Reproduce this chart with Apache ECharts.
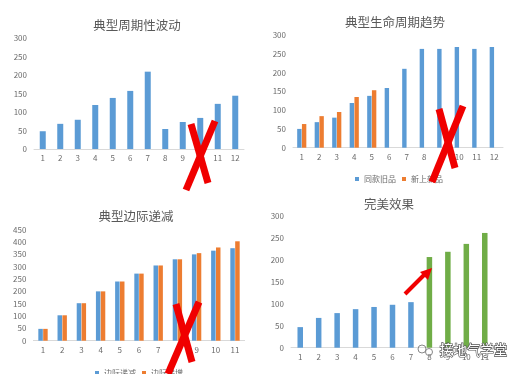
<!DOCTYPE html>
<html><head><meta charset="utf-8">
<script src="https://cdn.jsdelivr.net/npm/echarts@6/dist/echarts.min.js"></script>
<style>html,body{margin:0;padding:0;background:#fff}#c{width:515px;height:374px}</style>
</head><body><div id="c"></div>
<script>
// Chart 1: 典型周期性波动
const cats12 = ['1','2','3','4','5','6','7','8','9','10','11','12'];
const cats11 = ['1','2','3','4','5','6','7','8','9','10','11'];
const cycleValues = [48, 68, 79, 119, 138, 157, 209, 54, 73, 84, 122, 144];
// Chart 2: 典型生命周期趋势
const oldProduct = [50, 68, 80, 119, 138, 159, 210, 263, 263, 268, 263, 268];
const newProduct = [63, 84, 95, 135, 153, '-', '-', '-', '-', '-', '-', '-'];
// Chart 3: 典型边际递减
const marginalDec = [48, 103, 152, 200, 240, 272, 305, 330, 350, 365, 375];
const marginalInc = [48, 103, 152, 200, 240, 272, 305, 330, 355, 378, 403];
// Chart 4: 完美效果
const perfectBlue = [47, 68, 79, 88, 93, 98, 104, '-', '-', '-', '-'];
const perfectGreen = ['-', '-', '-', '-', '-', '-', '-', 207, 219, 237, 262];

const titles = ['典型周期性波动', '典型生命周期趋势', '典型边际递减', '完美效果'];
const legend2 = ['同款旧品', '新上新品'];
const legend3 = ['边际递减', '边际递增'];

const BLUE = '#5B9BD5', ORANGE = '#ED7D31', GREEN = '#70AD47';
const FONT = '"Noto Sans CJK SC", "Noto Sans", sans-serif';
const lblColor = '#6b6b6b';

const grids = [
  {left: 34, top: 38, width: 210, height: 111},
  {left: 293, top: 35, width: 210, height: 112.7},
  {left: 33.4, top: 229.7, width: 211.2, height: 111},
  {left: 291, top: 216.3, width: 203, height: 131.4}
];
function xAx(i, data){
  return {type:'category', gridIndex:i, data:data,
    axisLine:{lineStyle:{color:'#d9d9d9'}}, axisTick:{show:false},
    axisLabel:{color:lblColor, fontSize:8, margin:5, fontFamily:FONT, interval:0}};
}
function yAx(i, max){
  return {type:'value', gridIndex:i, min:0, max:max, interval:50,
    splitLine:{show:false}, axisLine:{show:false}, axisTick:{show:false},
    axisLabel:{color:lblColor, fontSize:8, margin:7, fontFamily:FONT}};
}
function titleAt(text, x, y){
  return {text:text, left:x, top:y, textAlign:'center',
    textStyle:{fontSize:12.5, fontWeight:'normal', color:'#595959', fontFamily:FONT}};
}
const X = (x1,y1,x2,y2) => ({type:'line', shape:{x1,y1,x2,y2}, z:100,
  style:{stroke:'#F00000', lineWidth:7, lineCap:'butt'}});

const option = {
  animation:false,
  backgroundColor:'#fff',
  title:[titleAt(titles[0],132,14), titleAt(titles[1],390,11), titleAt(titles[2],131,205), titleAt(titles[3],384,193)],
  grid:grids,
  legend:[
    {data:legend2, left:350, top:170, itemWidth:4, itemHeight:4, itemGap:6,
     textStyle:{fontSize:8, color:lblColor, fontFamily:FONT}, icon:'rect'},
    {data:legend3, left:90, top:364, itemWidth:4, itemHeight:4, itemGap:6,
     textStyle:{fontSize:8, color:lblColor, fontFamily:FONT}, icon:'rect'}
  ],
  xAxis:[xAx(0,cats12), xAx(1,cats12), xAx(2,cats11), xAx(3,cats11)],
  yAxis:[yAx(0,300), yAx(1,300), yAx(2,450), yAx(3,300)],
  series:[
    {type:'bar', xAxisIndex:0, yAxisIndex:0, data:cycleValues, barWidth:6, itemStyle:{color:BLUE}},
    {type:'bar', name:legend2[0], xAxisIndex:1, yAxisIndex:1, data:oldProduct, barWidth:4.4, barGap:'8%', itemStyle:{color:BLUE}},
    {type:'bar', name:legend2[1], xAxisIndex:1, yAxisIndex:1, data:newProduct, barWidth:4.4, barGap:'8%', itemStyle:{color:ORANGE}},
    {type:'bar', name:legend3[0], xAxisIndex:2, yAxisIndex:2, data:marginalDec, barWidth:4.5, barGap:'8%', itemStyle:{color:BLUE}},
    {type:'bar', name:legend3[1], xAxisIndex:2, yAxisIndex:2, data:marginalInc, barWidth:4.5, barGap:'8%', itemStyle:{color:ORANGE}},
    {type:'bar', xAxisIndex:3, yAxisIndex:3, data:perfectBlue, barWidth:5.5, barGap:'-100%', itemStyle:{color:BLUE}},
    {type:'bar', xAxisIndex:3, yAxisIndex:3, data:perfectGreen, barWidth:5.5, barGap:'-100%', itemStyle:{color:GREEN}}
  ],
  graphic:[
    X(191,124,208,183), X(215,121,186,190),
    X(439,109,455,168), X(463,106,432,182),
    X(176,304,192,362), X(199,302,168,374),
    {type:'line', shape:{x1:405,y1:294,x2:424,y2:275}, z:100, style:{stroke:'#F00000', lineWidth:4}},
    {type:'polygon', shape:{points:[[432,268],[420,272],[428,280]]}, z:100, style:{fill:'#F00000'}},
    {type:'circle', shape:{cx:422,cy:349,r:4}, z:100, style:{fill:'none', stroke:'#888', lineWidth:1}},
    {type:'circle', shape:{cx:429,cy:352,r:3.5}, z:100, style:{fill:'none', stroke:'#888', lineWidth:1}},
    {type:'text', left:439, top:342, z:100, style:{text:'接地气学堂', fontSize:13.5, fontFamily:FONT,
      fill:'#fff', stroke:'#555', lineWidth:1.3}}
  ]
};
const chart = echarts.init(document.getElementById('c'), null, {renderer:'canvas'});
chart.setOption(option);
</script></body></html>
